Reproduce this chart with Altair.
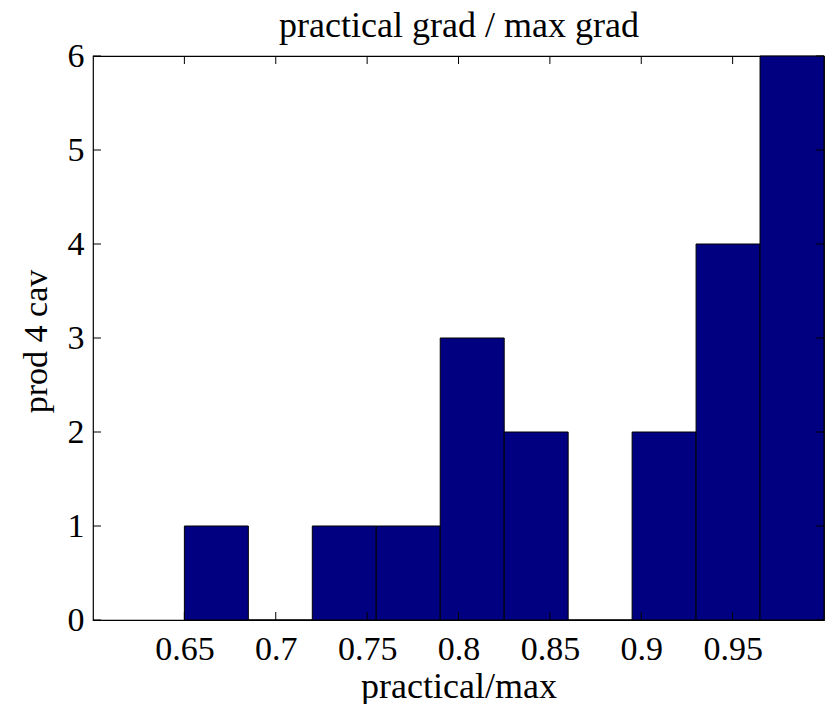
import altair as alt
import pandas as pd

# Histogram bins (left/right edges) and counts
bin_left = [0.650, 0.685, 0.720, 0.755, 0.790, 0.825, 0.860, 0.895, 0.930, 0.965]
bin_right = [0.685, 0.720, 0.755, 0.790, 0.825, 0.860, 0.895, 0.930, 0.965, 1.000]
counts = [1, 0, 1, 1, 3, 2, 0, 2, 4, 6]

x_ticks = [0.65, 0.70, 0.75, 0.80, 0.85, 0.90, 0.95]
y_ticks = [0, 1, 2, 3, 4, 5, 6]

chart_title = "practical grad / max grad"
x_title = "practical/max"
y_title = "prod 4 cav"

W, H = 731, 564
FONT = "Liberation Serif"
TICK_LEN = 8

bars_df = pd.DataFrame({"lo": bin_left, "hi": bin_right, "n": counts})
xt_df = pd.DataFrame({"v": x_ticks})
yt_df = pd.DataFrame({"v": y_ticks})

xscale = alt.Scale(domain=[0.6, 1.0], nice=False, zero=False)
yscale = alt.Scale(domain=[0, 6], nice=False)

x_axis = alt.Axis(values=x_ticks, format=".2~f", grid=False, ticks=False, tickSize=0,
                  domain=False, labelFont=FONT, labelFontSize=34, labelColor="#000000",
                  labelBaseline="alphabetic", labelPadding=39,
                  titleFont=FONT, titleFontSize=36, titleFontWeight="normal",
                  titleColor="#000000", titleBaseline="alphabetic", titleY=77)
y_axis = alt.Axis(values=y_ticks, format="d", grid=False, ticks=False, tickSize=0,
                  domain=False, labelFont=FONT, labelFontSize=34, labelColor="#000000",
                  labelPadding=9, titleFont=FONT, titleFontSize=34,
                  titleFontWeight="normal", titleColor="#000000",
                  titleBaseline="middle", titleX=-57, titleY=285)
top_axis = alt.Axis(orient="top", labels=False, ticks=False, domain=False, grid=False,
                    titleFont=FONT, titleFontSize=36, titleFontWeight="normal",
                    titleColor="#000000", titleBaseline="alphabetic", titleY=-20)

bars = alt.Chart(bars_df).mark_bar(
    color="#000080", stroke="#000000", strokeWidth=1, opacity=1
).encode(
    x=alt.X("lo:Q", scale=xscale, title=x_title, axis=x_axis),
    x2="hi:Q",
    y=alt.Y("n:Q", scale=yscale, title=y_title, axis=y_axis),
    y2=alt.datum(0),
)

tick_color = "#000000"
xt_bottom = alt.Chart(xt_df).mark_rule(color=tick_color, strokeWidth=1).encode(
    x=alt.X("v:Q", scale=xscale, axis=None),
    y=alt.value(H), y2=alt.value(H - TICK_LEN))
# top ticks carry a top axis used only for the chart heading
xt_top = alt.Chart(xt_df).mark_rule(color=tick_color, strokeWidth=1).encode(
    x=alt.X("v:Q", scale=xscale, title=chart_title, axis=top_axis),
    y=alt.value(0), y2=alt.value(TICK_LEN))
yt_left = alt.Chart(yt_df).mark_rule(color=tick_color, strokeWidth=1).encode(
    y=alt.Y("v:Q", scale=yscale, title=y_title, axis=y_axis),
    x=alt.value(0), x2=alt.value(TICK_LEN))
yt_right = alt.Chart(yt_df).mark_rule(color=tick_color, strokeWidth=1).encode(
    y=alt.Y("v:Q", scale=yscale, title=y_title, axis=y_axis),
    x=alt.value(W - TICK_LEN), x2=alt.value(W))

chart = alt.layer(bars, xt_bottom, xt_top, yt_left, yt_right).resolve_axis(
    x="independent"
).properties(
    width=W, height=H,
    autosize=alt.AutoSizeParams(type="none"),
    padding={"left": 93, "top": 56, "right": 1, "bottom": 84},
).configure(
    background="#ffffff",
    view=alt.ViewConfig(stroke="#000000", strokeWidth=1.2),
)

chart.save("out.html", embed_options={"renderer": "svg", "actions": False})
